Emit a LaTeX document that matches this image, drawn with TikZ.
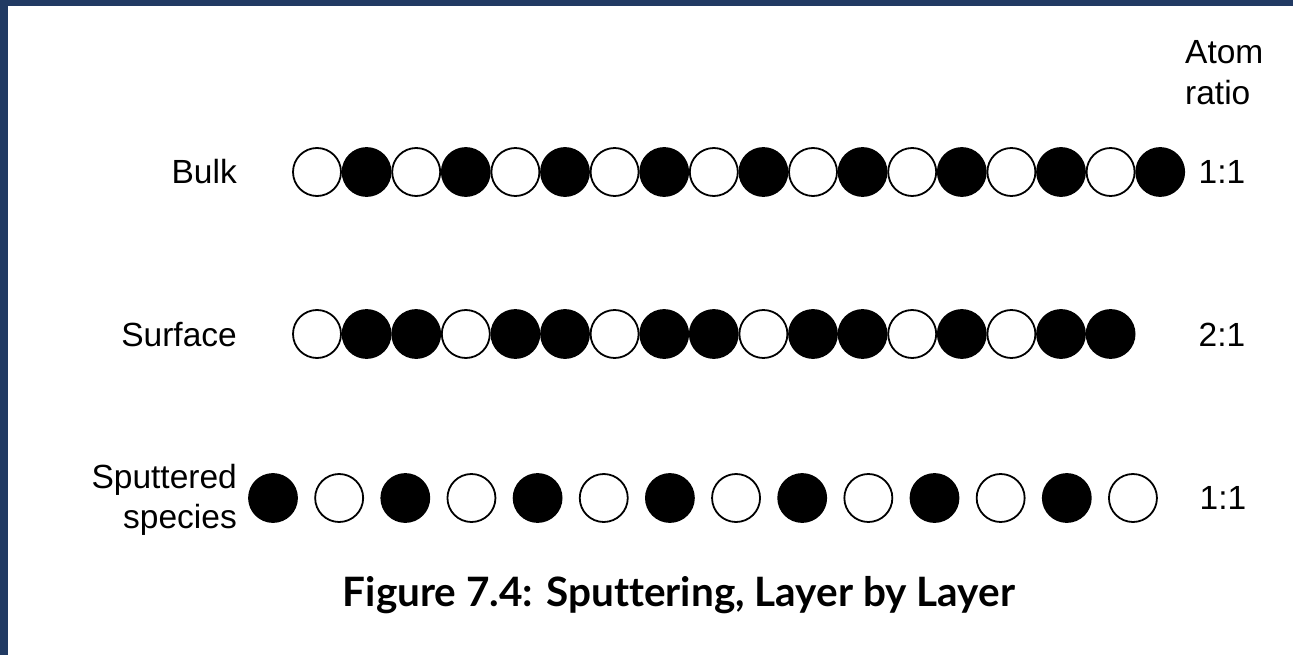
\documentclass[tikz,border=0pt]{standalone}
\usepackage{fontspec}
\setmainfont{Liberation Sans}
\newfontfamily\capfont[Ligatures=NoCommon]{Lato}
\definecolor{frameblue}{HTML}{213A63}
\begin{document}
\begin{tikzpicture}[x=1pt,y=-1pt,
  atom/.style={circle, minimum size=48pt, inner sep=0pt, line width=1.8pt, draw=black},
  lab/.style={font=\fontsize{33.5}{40}\selectfont, inner sep=0pt},
  captext/.style={font=\capfont\bfseries\fontsize{40.5}{46}\selectfont, inner sep=0pt}]
\useasboundingbox (0,0) rectangle (1293,655);
\fill[frameblue] (0,0) rectangle (1293,6);
\fill[frameblue] (0,0) rectangle (8,655);

% Bulk row
\foreach \c [count=\i from 0] in {white,black,white,black,white,black,white,black,white,black,white,black,white,black,white,black,white,black}
  \node[atom, fill=\c] (b\i) at ({317+49.6*\i},172) {};
% Surface row
\foreach \c [count=\i from 0] in {white,black,black,white,black,black,white,black,black,white,black,black,white,black,white,black,black}
  \node[atom, fill=\c] (s\i) at ({317+49.6*\i},334) {};
% Sputtered row
\foreach \c [count=\i from 0] in {black,white,black,white,black,white,black,white,black,white,black,white,black,white}
  \node[atom, fill=\c] (p\i) at ({273+66.15*\i},498) {};

% Labels
\node[lab, anchor=base east] (lbulk) at (237,184) {Bulk};
\node[lab, anchor=base east] (lsurf) at (237,346) {Surface};
\node[lab, anchor=base east] (lsp1) at (237,488) {Sputtered};
\node[lab, anchor=base east] (lsp2) at (237,528) {species};
\node[lab, anchor=base west] (at1) at (1185,64) {Atom};
\node[lab, anchor=base west] (at2) at (1185,105) {ratio};
\node[lab, anchor=base] (r1) at (1222,184) {1:1};
\node[lab, anchor=base] (r2) at (1222,346) {2:1};
\node[lab, anchor=base] (r3) at (1223,509) {1:1};

% Caption
\node[captext, anchor=base] (caption) at (679,606) {Figure 7.4: Sputtering, Layer by Layer};
\end{tikzpicture}
\end{document}
